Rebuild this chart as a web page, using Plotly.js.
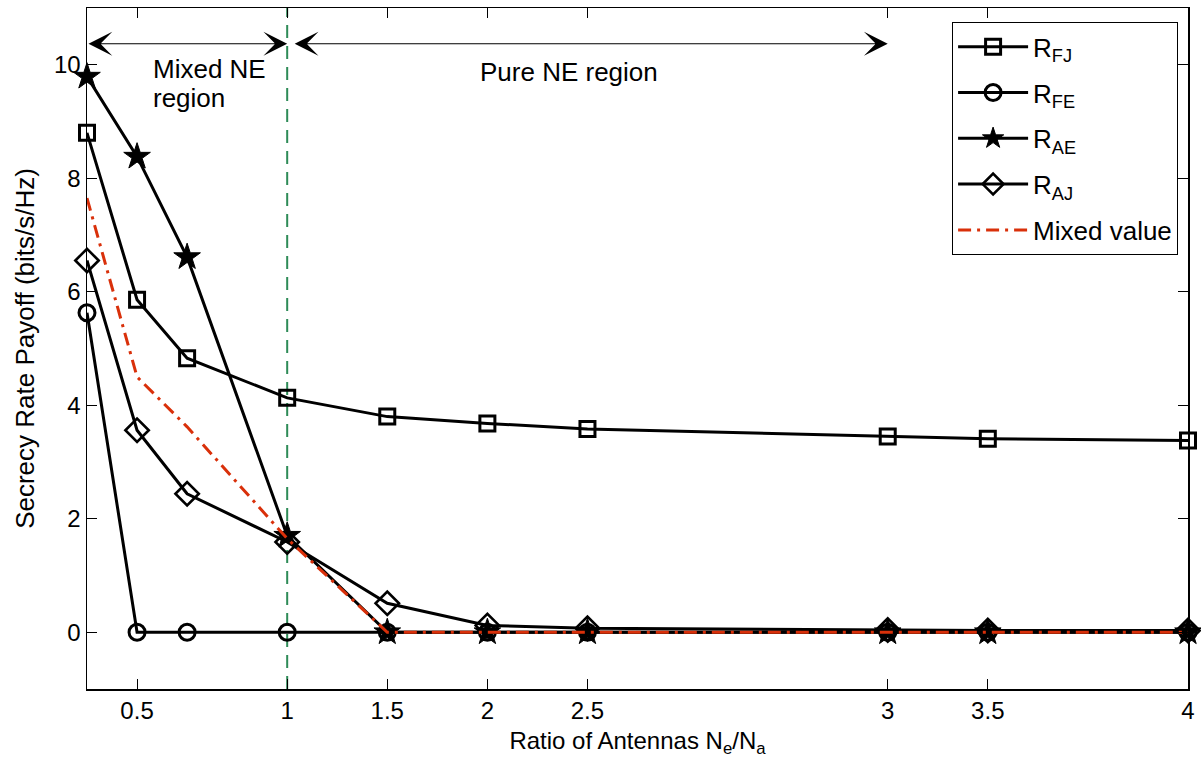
<!DOCTYPE html>
<html>
<head>
<meta charset="utf-8">
<script src="https://cdn.plot.ly/plotly-3.0.1.min.js"></script>
<style>html,body{margin:0;padding:0;background:#fff;}#chart{width:1201px;height:772px;}</style>
</head>
<body>
<div id="chart"></div>
<script>
// Ratio of antennas (actual positions) and displayed tick labels
const ratio = [0.3333, 0.5, 0.6667, 1, 1.3333, 1.6667, 2, 3, 3.3333, 4];
const tickPositions = [0.5, 1, 1.3333, 1.6667, 2, 3, 3.3333, 4];
const tickLabels = ['0.5', '1', '1.5', '2', '2.5', '3', '3.5', '4'];

const R_FJ = [8.8, 5.86, 4.83, 4.13, 3.8, 3.68, 3.58, 3.45, 3.41, 3.38];
const R_FE = [5.63, 0, 0, 0, 0, 0, 0, 0, 0, 0];
const R_AE = [9.79, 8.38, 6.61, 1.7, 0, 0, 0, 0, 0, 0];
const R_AJ = [6.55, 3.56, 2.44, 1.59, 0.51, 0.12, 0.07, 0.04, 0.03, 0.03];
const mixedValue = [7.65, 4.5, 3.62, 1.65, 0, 0, 0, 0, 0, 0];

const boundaryX = 1;
const arrowY = 10.37;

const FONT = 'Liberation Sans, Arial, sans-serif';
const black = '#000000';

function series(y, name, symbol, size, lw) {
  return {
    x: ratio, y: y, name: name, legendgroup: name, type: 'scatter', mode: 'lines+markers',
    cliponaxis: false,
    line: {color: black, width: 3},
    marker: {symbol: symbol, size: size, color: black, line: {color: black, width: lw}}
  };
}

const traces = [
  series(R_FJ, 'R<sub>FJ</sub>', 'square-open', 15, 3),
  series(R_FE, 'R<sub>FE</sub>', 'circle-open', 16, 3),
  series(R_AE, 'R<sub>AE</sub>', 'star', 20, 1),
  series(R_AJ, 'R<sub>AJ</sub>', 'diamond-open', 18, 2.6),
  {
    x: ratio, y: mixedValue, name: 'Mixed value', legendgroup: 'mixed', type: 'scatter', mode: 'lines',
    cliponaxis: false,
    line: {color: '#d9300a', width: 3, dash: '13px,6px,3px,6px'}
  }
];

const layout = {
  width: 1201, height: 772,
  margin: {l: 87, r: 13, t: 8, b: 83},
  paper_bgcolor: '#ffffff', plot_bgcolor: '#ffffff',
  font: {family: FONT, size: 26, color: black},
  showlegend: true,
  legend: {
    x: 0.991, y: 0.979, xanchor: 'right', yanchor: 'top',
    bgcolor: '#ffffff', bordercolor: black, borderwidth: 1,
    font: {family: FONT, size: 26, color: black},
    tracegroupgap: 9, itemwidth: 70
  },
  xaxis: {
    range: [0.3333, 4],
    tickmode: 'array', tickvals: tickPositions, ticktext: tickLabels,
    ticks: 'inside', ticklen: 10, tickwidth: 1, tickcolor: black,
    showline: true, linecolor: black, linewidth: 1.5, mirror: 'allticks',
    showgrid: false, zeroline: false,
    tickfont: {family: FONT, size: 24, color: black},
    title: {text: 'Ratio of Antennas N<sub>e</sub>/N<sub>a</sub>', font: {family: FONT, size: 24, color: black}, standoff: 9}
  },
  yaxis: {
    range: [-1, 11],
    tickmode: 'array', tickvals: [0, 2, 4, 6, 8, 10],
    ticks: 'inside', ticklen: 10, tickwidth: 1, tickcolor: black,
    showline: true, linecolor: black, linewidth: 1.5, mirror: 'allticks',
    showgrid: false, zeroline: false,
    tickfont: {family: FONT, size: 24, color: black},
    title: {text: 'Secrecy Rate Payoff (bits/s/Hz)', font: {family: FONT, size: 26, color: black}, standoff: 12}
  },
  shapes: [
    {type: 'line', xref: 'x', yref: 'paper', x0: boundaryX, x1: boundaryX, y0: 0, y1: 1,
     line: {color: '#2e8b57', width: 2, dash: '13px,8px'}, layer: 'below'}
  ],
  annotations: [
    {x: boundaryX, y: arrowY, ax: 0.3333, ay: arrowY, xref: 'x', yref: 'y', axref: 'x', ayref: 'y',
     text: '', showarrow: true, arrowhead: 3, startarrowhead: 3, arrowside: 'end+start',
     arrowsize: 3.3, startarrowsize: 3.3, arrowwidth: 1.2, arrowcolor: black},
    {x: 3, y: arrowY, ax: 1.02, ay: arrowY, xref: 'x', yref: 'y', axref: 'x', ayref: 'y',
     text: '', showarrow: true, arrowhead: 3, startarrowhead: 3, arrowside: 'end+start',
     arrowsize: 3.3, startarrowsize: 3.3, arrowwidth: 1.2, arrowcolor: black},
    {x: 0.547, y: 9.93, xref: 'x', yref: 'y', xanchor: 'left', yanchor: 'middle', align: 'left',
     text: 'Mixed NE', showarrow: false, font: {family: FONT, size: 26, color: black}},
    {x: 0.547, y: 9.42, xref: 'x', yref: 'y', xanchor: 'left', yanchor: 'middle', align: 'left',
     text: 'region', showarrow: false, font: {family: FONT, size: 26, color: black}},
    {x: 1.637, y: 9.87, xref: 'x', yref: 'y', xanchor: 'left', yanchor: 'middle', align: 'left',
     text: 'Pure NE region', showarrow: false, font: {family: FONT, size: 26, color: black}}
  ]
};

Plotly.newPlot('chart', traces, layout, {displayModeBar: false, staticPlot: true});
</script>
</body>
</html>
